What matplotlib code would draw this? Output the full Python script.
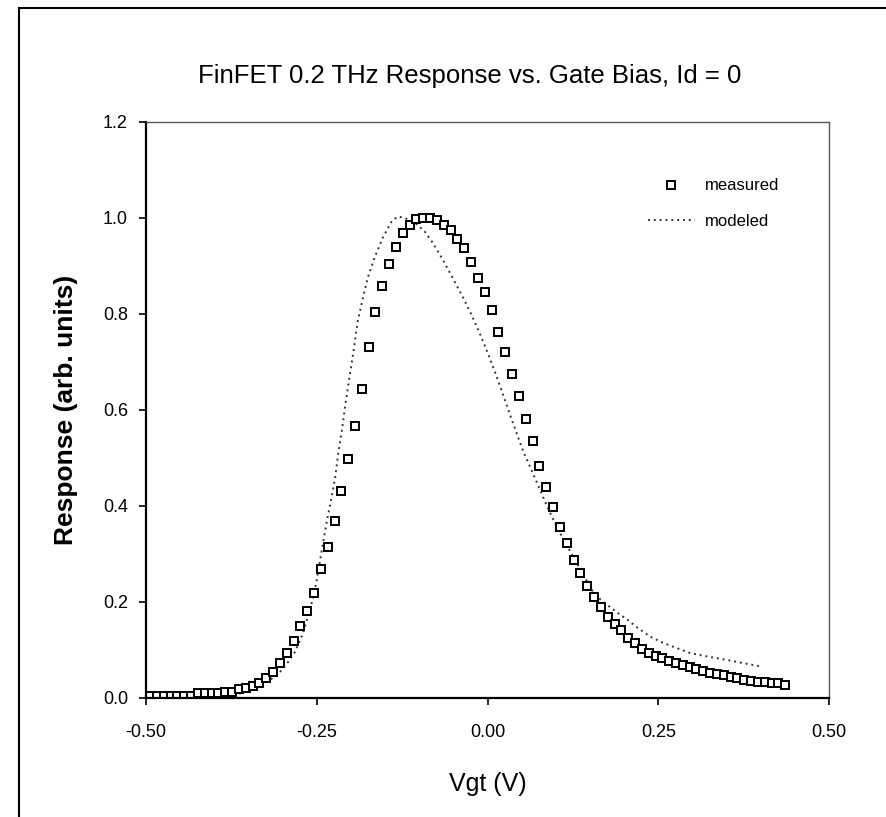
import numpy as np
import matplotlib
matplotlib.use('Agg')
import matplotlib.pyplot as plt
from matplotlib.lines import Line2D

# data
vgt_measured = [-0.494, -0.484, -0.474, -0.464, -0.454, -0.444, -0.434, -0.424, -0.414, -0.404,
                -0.394, -0.384, -0.374, -0.364, -0.354, -0.344, -0.334, -0.324, -0.314, -0.304,
                -0.294, -0.284, -0.274, -0.264, -0.254, -0.244, -0.234, -0.224, -0.214, -0.204,
                -0.194, -0.184, -0.174, -0.164, -0.154, -0.144, -0.134, -0.124, -0.114, -0.104,
                -0.094, -0.084, -0.074, -0.064, -0.054, -0.044, -0.034, -0.024, -0.014, -0.004,
                0.006, 0.016, 0.026, 0.036, 0.046, 0.056, 0.066, 0.076, 0.086, 0.096,
                0.106, 0.116, 0.126, 0.136, 0.146, 0.156, 0.166, 0.176, 0.186, 0.196,
                0.206, 0.216, 0.226, 0.236, 0.246, 0.256, 0.266, 0.276, 0.286, 0.296,
                0.306, 0.316, 0.326, 0.336, 0.346, 0.356, 0.366, 0.376, 0.386, 0.396,
                0.406, 0.416, 0.426, 0.436]
resp_measured = [0.005, 0.005, 0.005, 0.005, 0.005, 0.005, 0.005, 0.010, 0.010, 0.010,
                 0.010, 0.012, 0.013, 0.018, 0.021, 0.025, 0.032, 0.042, 0.055, 0.073,
                 0.094, 0.119, 0.150, 0.182, 0.219, 0.268, 0.315, 0.369, 0.431, 0.498,
                 0.567, 0.644, 0.732, 0.804, 0.858, 0.904, 0.940, 0.968, 0.985, 0.997,
                 1.000, 1.000, 0.996, 0.985, 0.975, 0.956, 0.937, 0.909, 0.876, 0.845,
                 0.808, 0.763, 0.721, 0.676, 0.630, 0.581, 0.535, 0.484, 0.440, 0.397,
                 0.356, 0.322, 0.288, 0.260, 0.233, 0.211, 0.190, 0.169, 0.155, 0.142,
                 0.126, 0.114, 0.103, 0.094, 0.088, 0.083, 0.078, 0.073, 0.069, 0.065,
                 0.060, 0.057, 0.053, 0.050, 0.047, 0.044, 0.041, 0.038, 0.036, 0.034,
                 0.033, 0.032, 0.031, 0.027]

vgt_model = [-0.50, -0.42, -0.36, -0.333, -0.314, -0.304, -0.292, -0.282, -0.270, -0.255,
             -0.250, -0.245, -0.240, -0.235, -0.230, -0.223, -0.218, -0.213, -0.208, -0.203,
             -0.197, -0.190, -0.182, -0.175, -0.165, -0.153, -0.140, -0.131, -0.121, -0.106,
             -0.092, -0.080, -0.065, -0.051, -0.036, -0.023, -0.012, 0.000, 0.012, 0.024,
             0.036, 0.052, 0.072, 0.087, 0.102, 0.116, 0.128, 0.143, 0.157, 0.176,
             0.191, 0.206, 0.219, 0.238, 0.257, 0.277, 0.296, 0.316, 0.336, 0.355,
             0.377, 0.403]
resp_model = [0.000, 0.002, 0.010, 0.025, 0.042, 0.054, 0.075, 0.096, 0.135, 0.210,
              0.246, 0.288, 0.329, 0.371, 0.405, 0.460, 0.515, 0.560, 0.612, 0.660,
              0.715, 0.785, 0.836, 0.877, 0.919, 0.960, 0.994, 1.003, 1.000, 0.990,
              0.972, 0.948, 0.912, 0.875, 0.835, 0.797, 0.762, 0.720, 0.675, 0.627,
              0.578, 0.515, 0.450, 0.400, 0.355, 0.318, 0.288, 0.250, 0.215, 0.193,
              0.177, 0.162, 0.147, 0.128, 0.115, 0.104, 0.094, 0.088, 0.083, 0.078,
              0.072, 0.065]

x_ticks = [-0.50, -0.25, 0.00, 0.25, 0.50]
y_ticks = [0.0, 0.2, 0.4, 0.6, 0.8, 1.0, 1.2]

plt.rcParams['font.family'] = ['Liberation Sans', 'DejaVu Sans']

fig = plt.figure(figsize=(8.86, 8.17), dpi=100)
ax = fig.add_axes([146/886, 119/817, 683/886, 576/817])

# picture frame (left and top edge)
fig.add_artist(Line2D([19/886, 19/886], [0, 1 - 8/817], color='black', lw=1.5))
fig.add_artist(Line2D([19/886, 1], [1 - 8/817, 1 - 8/817], color='black', lw=1.5))

ax.plot(vgt_model, resp_model, linestyle=(0, (1, 2)), color='#333333', lw=1.4, label='modeled')
ax.plot(vgt_measured, resp_measured, 's', ms=5.5, mfc='white', mec='black', mew=1.4,
        linestyle='none', label='measured')

ax.set_xlim(-0.5, 0.5)
ax.set_ylim(0, 1.2)
ax.set_xticks(x_ticks)
ax.set_yticks(y_ticks)
ax.set_xticklabels([f'{v:.2f}' for v in x_ticks], fontsize=13)
ax.set_yticklabels([f'{v:.1f}' for v in y_ticks], fontsize=13)
ax.tick_params(direction='out', length=5, width=1.2, pad=14)
ax.tick_params(axis='y', pad=8)

for s in ['left', 'bottom']:
    ax.spines[s].set_linewidth(1.6)
for s in ['top', 'right']:
    ax.spines[s].set_linewidth(1.0)
    ax.spines[s].set_color('#555555')

fig.text(470/886, 1 - 76/817, 'FinFET 0.2 THz Response vs. Gate Bias, Id = 0',
         fontsize=18.5, ha='center', va='center')
ax.set_xlabel('Vgt (V)', fontsize=18, labelpad=22)
ax.set_ylabel('Response (arb. units)', fontsize=19, fontweight='bold', labelpad=18)

h, l = ax.get_legend_handles_labels()
ax.legend(h[::-1], l[::-1], loc='upper left', bbox_to_anchor=(0.735, 0.902),
          frameon=False, fontsize=12, handlelength=2.8, handletextpad=0.6,
          labelspacing=1.25, borderpad=0, borderaxespad=0)

fig.savefig('out.png', dpi=100)
